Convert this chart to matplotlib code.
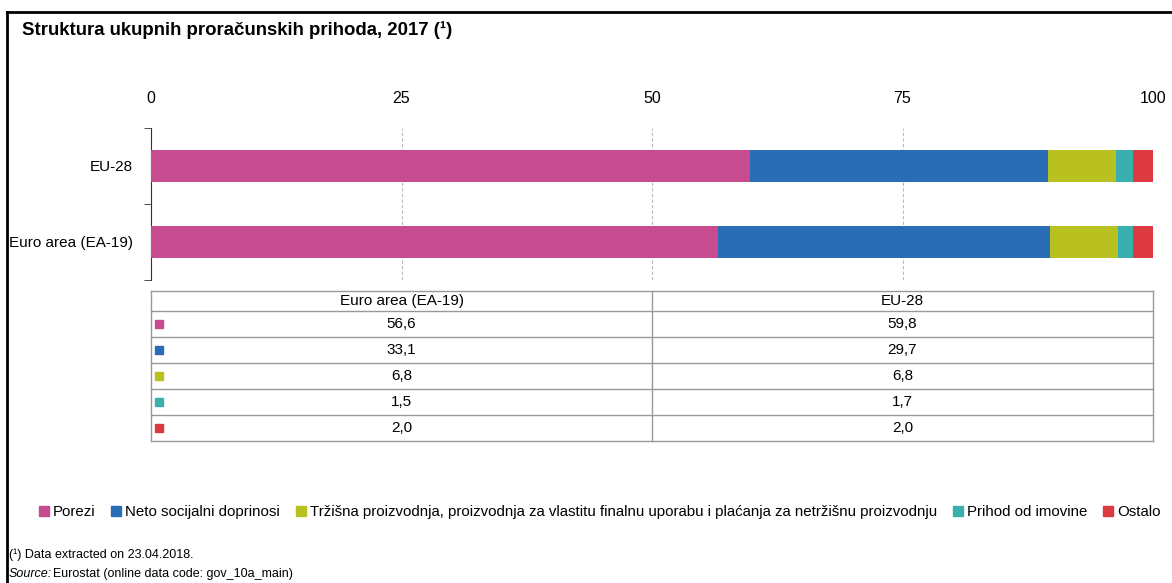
import matplotlib
matplotlib.use('Agg')
import matplotlib.pyplot as plt
from matplotlib.lines import Line2D
from matplotlib.patches import Rectangle

plt.rcParams['font.family'] = ['Liberation Sans', 'DejaVu Sans']

# podaci
zemlje = ['EU-28', 'Euro area (EA-19)']
kategorije = ['Porezi', 'Neto socijalni doprinosi',
              'Tržišna proizvodnja, proizvodnja za vlastitu finalnu uporabu i plaćanja za netržišnu proizvodnju',
              'Prihod od imovine', 'Ostalo']
eu28 = [59.8, 29.7, 6.8, 1.7, 2.0]
ea19 = [56.6, 33.1, 6.8, 1.5, 2.0]
boje = ['#C74C8F', '#2A6DB5', '#B8C11F', '#3AB0AE', '#DC3A40']
tablica_stupci = ['Euro area (EA-19)', 'EU-28']
x_ticks = [0, 25, 50, 75, 100]

W, H = 1172, 583
fig = plt.figure(figsize=(W / 100, H / 100), dpi=100)

def fx(px):
    return px / W

def fy(px):
    return 1 - px / H

# okvir
fig.add_artist(Line2D([fx(7), 1], [fy(12), fy(12)], color='black', lw=2))
fig.add_artist(Line2D([fx(7), fx(7)], [fy(12), 0], color='black', lw=2))

fig.text(fx(22), fy(30), 'Struktura ukupnih proračunskih prihoda, 2017 (¹)',
         fontsize=13.4, fontweight='bold', va='center', ha='left')

# graf
ax = fig.add_axes([fx(151), fy(280), fx(1153) - fx(151), (280 - 128) / H])
vrijednosti = [eu28, ea19]
for i, vals in enumerate(vrijednosti):
    lijevo = 0
    for v, c in zip(vals, boje):
        ax.barh(i, v, left=lijevo, height=0.41, color=c, zorder=3)
        lijevo += v
ax.set_xlim(0, 100)
ax.set_ylim(1.5, -0.5)
ax.set_yticks([0, 1])
ax.set_yticklabels(zemlje, fontsize=11)
ax.set_yticks([-0.5, 0.5, 1.5], minor=True)
ax.tick_params(axis='y', which='major', length=0, pad=13)
ax.tick_params(axis='y', which='minor', length=5, color='#333333')
ax.set_xticks(x_ticks)
ax.xaxis.tick_top()
ax.tick_params(axis='x', length=0, pad=16, labelsize=11.5)
for t in x_ticks[1:]:
    ax.axvline(t, color='#BBBBBB', lw=0.8, ls=(0, (3, 2)), zorder=1)
for s in ['top', 'right', 'bottom']:
    ax.spines[s].set_visible(False)
ax.spines['left'].set_color('#333333')

# tablica
tx0, tx1, tmid = 151, 1153, 652
ty = [291, 311, 337, 363, 389, 415, 441]
siva = '#999999'
for y in ty:
    fig.add_artist(Line2D([fx(tx0), fx(tx1)], [fy(y), fy(y)], color=siva, lw=1))
for x in [tx0, tmid, tx1]:
    fig.add_artist(Line2D([fx(x), fx(x)], [fy(ty[0]), fy(ty[-1])], color=siva, lw=1))
for j, naslov in enumerate(tablica_stupci):
    cx = (tx0 + tmid) / 2 if j == 0 else (tmid + tx1) / 2
    fig.text(fx(cx), fy((ty[0] + ty[1]) / 2), naslov, fontsize=11, ha='center', va='center')
stupci_vrijednosti = [ea19, eu28]
for r in range(len(kategorije)):
    yc = (ty[r + 1] + ty[r + 2]) / 2
    fig.add_artist(Rectangle((fx(155), fy(yc + 4)), 8 / W, 8 / H, color=boje[r],
                             transform=fig.transFigure))
    for j, vals in enumerate(stupci_vrijednosti):
        cx = (tx0 + tmid) / 2 if j == 0 else (tmid + tx1) / 2
        fig.text(fx(cx), fy(yc), f'{vals[r]:.1f}'.replace('.', ','), fontsize=11,
                 ha='center', va='center')

# legenda
ruke = [Line2D([], [], marker='s', color=c, ls='none', markersize=6.5) for c in boje]
fig.legend(ruke, kategorije, loc='center', bbox_to_anchor=(fx(600), fy(512)), ncol=5,
           frameon=False, fontsize=10.8, handlelength=0.6, handletextpad=0.3,
           columnspacing=1.1, borderpad=0, borderaxespad=0)

fig.text(fx(9), fy(555), '(¹) Data extracted on 23.04.2018.', fontsize=9, va='center')
fig.text(fx(9), fy(574), 'Source:', fontsize=9, va='center', style='italic')
fig.text(fx(53), fy(574), 'Eurostat (online data code: gov_10a_main)', fontsize=9, va='center')

fig.savefig('out.png', dpi=100)
